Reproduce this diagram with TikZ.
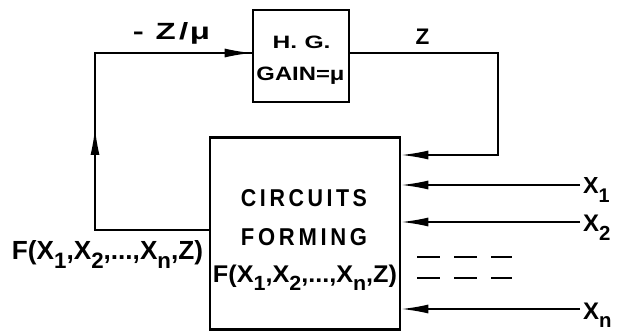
\documentclass[tikz,border=0pt]{standalone}
\usepackage{fontspec}
\usepackage{graphicx}
\setmainfont{Liberation Sans Bold}
\usetikzlibrary{arrows.meta}
\newcommand\sbs[1]{\raisebox{-0.7ex}{\scalebox{0.85}{#1}}}
\newcommand\fit[3]{\resizebox{#1}{#2}{#3}}
\tikzset{
  blk/.style={draw, line width=2.6pt, inner sep=0pt},
  wire/.style={line width=1.6pt},
  tip/.style={-{Latex[length=27pt,width=9pt]}},
  txt/.style={inner sep=0pt, anchor=base},
}
\begin{document}
\begin{tikzpicture}[x=1pt,y=-1pt]
\useasboundingbox (0,0) rectangle (618,331);
% blocks
\node[blk, minimum width=96pt, minimum height=92pt] (hg) at (301,56) {};
\node[txt] (hg1) at (301.5,48.5) {\fit{58pt}{12.5pt}{H.\hspace{0.3em}G.}};
\node[txt] (hg2) at (300.5,80.5) {\fit{88pt}{13.5pt}{GAIN=μ}};
\node[blk, minimum width=190pt, minimum height=192pt] (cf) at (305,233.5) {};
\node[txt] (cf1) at (304,207) {\fit{126pt}{17pt}{C\,I\,R\,C\,U\,I\,T\,S}};
\node[txt] (cf2) at (304,245) {\fit{126pt}{17pt}{F\,O\,R\,M\,I\,N\,G}};
\node[txt] (cf3) at (305,282) {\fit{184pt}{17.5pt}{F(X\sbs{1},X\sbs{2},...,X\sbs{n},Z)}};
% coordinates
\coordinate (fl) at (95,230);
\coordinate (tl) at (95,53);
\coordinate (mid) at (95,128);
\coordinate (zr) at (498,53);
\coordinate (zb) at (498,155);
\coordinate (x1) at (580,185);
\coordinate (x2) at (580,222);
\coordinate (xn) at (580,309);
% feedback loop
\draw[wire] (cf.west |- fl) -- (fl) -- (tl) -- (hg.west |- tl);
\draw[wire, tip] (hg.west |- tl) ++(-40,0) coordinate (a0) (a0) -- (hg.west |- tl);
\draw[wire, tip] (fl) -- (mid);
\draw[wire, tip] (hg.east |- zr) -- (zr) -- (zb) -- (cf.east |- zb);
\draw[wire, tip] (x1) -- (cf.east |- x1);
\draw[wire, tip] (x2) -- (cf.east |- x2);
\draw[wire, tip] (xn) -- (cf.east |- xn);
% dashes
\draw[wire, dash pattern=on 23pt off 14pt] (417,257) -- (512,257);
\draw[wire, dash pattern=on 23pt off 14pt] (417,278) -- (512,278);
% labels
\node[txt] (lz) at (171.5,40) {\fit{77pt}{17pt}{-\hspace{0.35em}Z\hspace{0.1em}/\hspace{0.05em}μ}};
\node[txt] (lzz) at (422.5,45) {\fit{!}{15.5pt}{Z}};
\node[txt, anchor=base west] (l1) at (583,193.5) {\fit{!}{16pt}{X\sbs{1}}};
\node[txt, anchor=base west] (l2) at (583,231.5) {\fit{!}{16.5pt}{X\sbs{2}}};
\node[txt, anchor=base west] (ln) at (583,319) {\fit{!}{16.5pt}{X\sbs{n}}};
\node[txt] (lf) at (107.5,259) {\fit{191pt}{19pt}{F(X\sbs{1},X\sbs{2},...,X\sbs{n},Z)}};
\end{tikzpicture}
\end{document}
